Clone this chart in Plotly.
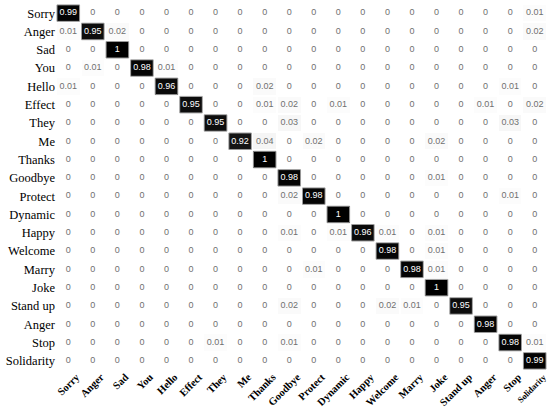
import numpy as np
import plotly.graph_objects as go

# Rótulos das classes (linhas = verdadeiro, colunas = previsto)
labels = ["Sorry", "Anger", "Sad", "You", "Hello", "Effect", "They", "Me", "Thanks",
          "Goodbye", "Protect", "Dynamic", "Happy", "Welcome", "Marry", "Joke",
          "Stand up", "Anger", "Stop", "Solidarity"]

# Valores não nulos de cada linha: {coluna: valor}
row_sorry = {0: 0.99, 19: 0.01}
row_anger = {0: 0.01, 1: 0.95, 2: 0.02, 19: 0.02}
row_sad = {2: 1}
row_you = {1: 0.01, 3: 0.98, 4: 0.01}
row_hello = {0: 0.01, 4: 0.96, 8: 0.02, 18: 0.01}
row_effect = {5: 0.95, 8: 0.01, 9: 0.02, 11: 0.01, 17: 0.01, 19: 0.02}
row_they = {6: 0.95, 9: 0.03, 18: 0.03}
row_me = {7: 0.92, 8: 0.04, 10: 0.02, 15: 0.02}
row_thanks = {8: 1}
row_goodbye = {9: 0.98, 15: 0.01}
row_protect = {9: 0.02, 10: 0.98, 18: 0.01}
row_dynamic = {11: 1}
row_happy = {9: 0.01, 11: 0.01, 12: 0.96, 13: 0.01, 15: 0.01}
row_welcome = {13: 0.98, 15: 0.01}
row_marry = {10: 0.01, 14: 0.98, 15: 0.01}
row_joke = {15: 1}
row_standup = {9: 0.02, 13: 0.02, 14: 0.01, 16: 0.95}
row_anger2 = {17: 0.98}
row_stop = {6: 0.01, 9: 0.01, 18: 0.98, 19: 0.01}
row_solidarity = {19: 0.99}

rows = [row_sorry, row_anger, row_sad, row_you, row_hello, row_effect, row_they, row_me,
        row_thanks, row_goodbye, row_protect, row_dynamic, row_happy, row_welcome,
        row_marry, row_joke, row_standup, row_anger2, row_stop, row_solidarity]

n = len(labels)
z = np.zeros((n, n))
for i, r in enumerate(rows):
    for j, v in r.items():
        z[i, j] = v

# Texto de cada célula
xs, ys, txt, cores = [], [], [], []
for i in range(n):
    for j in range(n):
        v = z[i, j]
        xs.append(j)
        ys.append(i)
        txt.append("0" if v == 0 else f"{v:g}")
        cores.append("white" if v > 0.5 else "#707070")

heat = go.Heatmap(
    z=z, x=list(range(n)), y=list(range(n)),
    colorscale=[[0, "white"], [1, "black"]],
    zmin=0, zmax=1, showscale=False, xgap=2, ygap=2, hoverinfo="skip"
)

texto = go.Scatter(
    x=xs, y=ys, text=txt, mode="text",
    textfont=dict(family="Liberation Sans", size=9, color=cores),
    hoverinfo="skip", showlegend=False
)

fig = go.Figure(data=[heat, texto])

# Bordas cinzas nas células escuras
for i in range(n):
    for j in range(n):
        if z[i, j] > 0.5:
            fig.add_shape(type="rect", x0=j - 0.46, x1=j + 0.46, y0=i - 0.45, y1=i + 0.45,
                          line=dict(color="#999999", width=1))

# último rótulo do eixo x é menor na figura original
xlabels = labels[:-1] + ["<span style='font-size:8.5px'>" + labels[-1] + "</span>"]

fig.update_layout(
    width=550, height=408,
    margin=dict(l=56, r=3, t=4, b=38),
    plot_bgcolor="white", paper_bgcolor="white",
    xaxis=dict(tickvals=list(range(n)), ticktext=xlabels, tickangle=-45, automargin=False,
               tickfont=dict(family="Liberation Serif", size=10.5, color="black", weight="bold"),
               ticklabelshift=8, ticklabelstandoff=-2,
               showgrid=False, zeroline=False, range=[-0.5, n - 0.5], ticks=""),
    yaxis=dict(tickvals=list(range(n)), ticktext=labels, automargin=False,
               tickfont=dict(family="Liberation Serif", size=12.5, color="black"),
               showgrid=False, zeroline=False, range=[n - 0.5, -0.5], ticks=""),
)

fig.write_html("out.html", config={"displayModeBar": False},
               post_script="document.body.style.margin='0';")
